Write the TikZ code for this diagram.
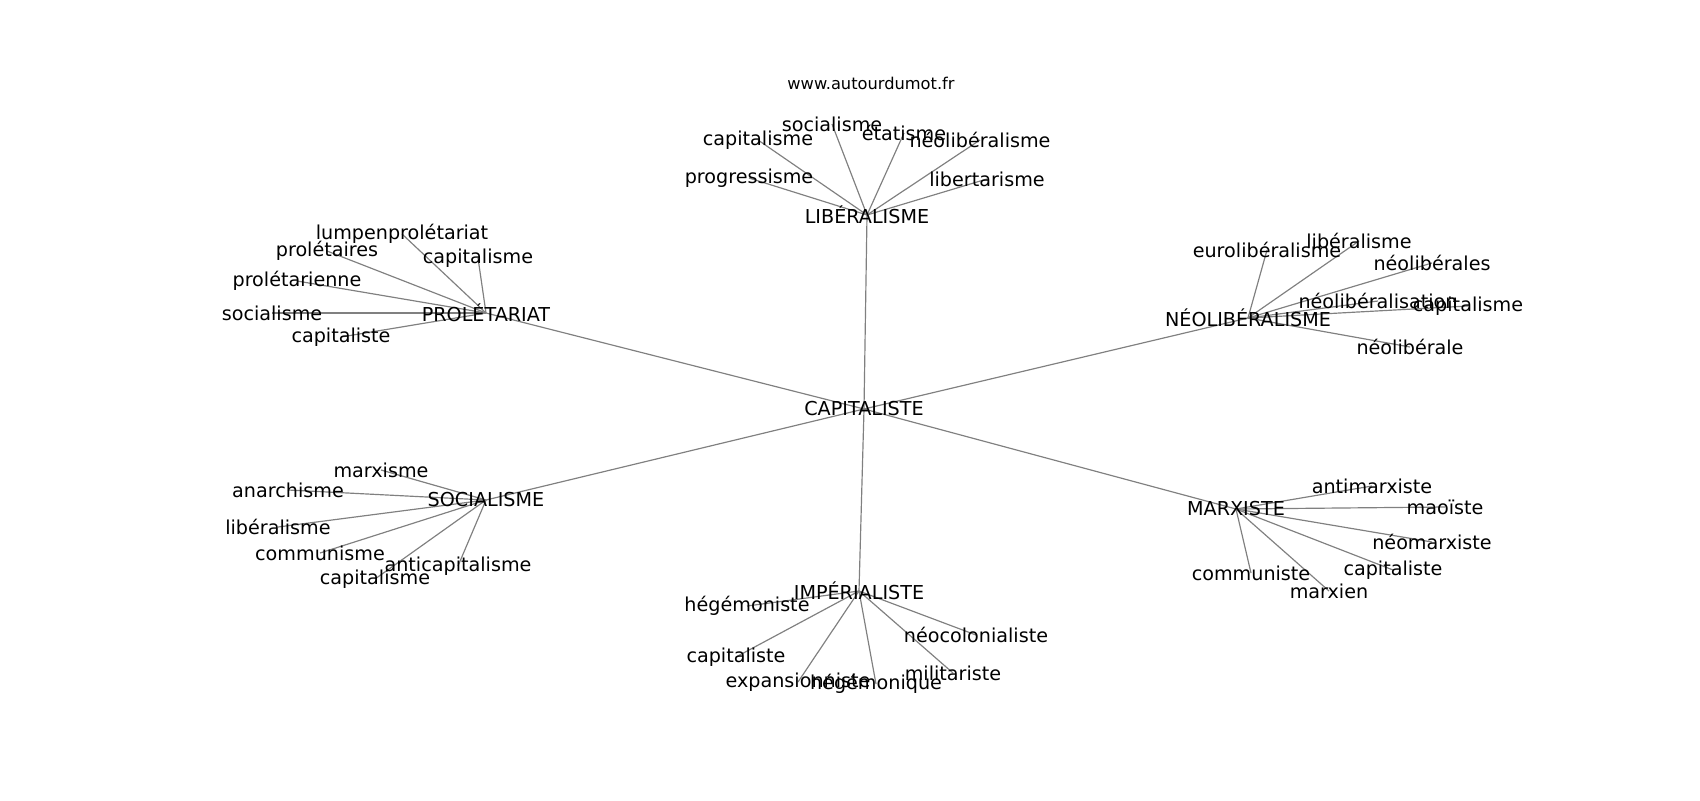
\documentclass[tikz,border=0pt]{standalone}
\usepackage{fontspec}
\setmainfont{DejaVu Sans}
\usetikzlibrary{backgrounds}

\begin{document}
\begin{tikzpicture}[x=0.72pt,y=-0.72pt]
  \tikzstyle{word}=[font=\fontsize{13.8}{16}\selectfont,inner sep=0pt,text=black]
  \tikzstyle{link}=[draw=black!50,line width=0.85pt]

  \useasboundingbox (0,0) rectangle (1700,800);

  \node[font=\fontsize{11.7}{14}\selectfont,inner sep=0pt] (Site) at (871,83) {www.autourdumot.fr};

  \node[word] (Capitaliste)   at (864,409)  {CAPITALISTE};
  \node[word] (Liberalisme)   at (867,215)  {LIBÉRALISME};
  \node[word] (Proletariat)   at (486,313)  {PROLÉTARIAT};
  \node[word] (Neoliberalisme) at (1248,318) {NÉOLIBÉRALISME};
  \node[word] (Socialisme)    at (486,500)  {SOCIALISME};
  \node[word] (Marxiste)      at (1236,509) {MARXISTE};
  \node[word] (Imperialiste)  at (859,591)  {IMPÉRIALISTE};

  % libéralisme
  \node[word] (LibSocialisme)      at (832,124) {socialisme};
  \node[word] (LibCapitalisme)     at (758,140) {capitalisme};
  \node[word] (LibEtatisme)        at (904,133) {étatisme};
  \node[word] (LibNeoliberalisme)  at (980,140) {néolibéralisme};
  \node[word] (LibProgressisme)    at (749,178) {progressisme};
  \node[word] (LibLibertarisme)    at (987,179) {libertarisme};

  % prolétariat
  \node[word] (ProlLumpen)         at (402,234) {lumpenprolétariat};
  \node[word] (ProlProletaires)    at (327,251) {prolétaires};
  \node[word] (ProlCapitalisme)    at (478,258) {capitalisme};
  \node[word] (ProlProletarienne)  at (297,281) {prolétarienne};
  \node[word] (ProlSocialisme)     at (272,313) {socialisme};
  \node[word] (ProlCapitaliste)    at (341,337) {capitaliste};

  % néolibéralisme
  \node[word] (NeoEuroliberalisme)   at (1267,250) {eurolibéralisme};
  \node[word] (NeoLiberalisme)       at (1359,241) {libéralisme};
  \node[word] (NeoNeoliberales)      at (1432,263) {néolibérales};
  \node[word] (NeoNeoliberalisation) at (1378,301) {néolibéralisation};
  \node[word] (NeoCapitalisme)       at (1468,306) {capitalisme};
  \node[word] (NeoNeoliberale)       at (1410,347) {néolibérale};

  % socialisme
  \node[word] (SocMarxisme)        at (381,470) {marxisme};
  \node[word] (SocAnarchisme)      at (288,490) {anarchisme};
  \node[word] (SocLiberalisme)     at (278,527) {libéralisme};
  \node[word] (SocCommunisme)      at (320,553) {communisme};
  \node[word] (SocCapitalisme)     at (375,579) {capitalisme};
  \node[word] (SocAnticapitalisme) at (458,566) {anticapitalisme};

  % marxiste
  \node[word] (MarxAntimarxiste)   at (1372,486) {antimarxiste};
  \node[word] (MarxMaoiste)        at (1445,507) {maoïste};
  \node[word] (MarxNeomarxiste)    at (1432,542) {néomarxiste};
  \node[word] (MarxCapitaliste)    at (1393,570) {capitaliste};
  \node[word] (MarxCommuniste)     at (1251,573) {communiste};
  \node[word] (MarxMarxien)        at (1329,591) {marxien};

  % impérialiste
  \node[word] (ImpHegemoniste)     at (747,606) {hégémoniste};
  \node[word] (ImpNeocolonialiste) at (976,635) {néocolonialiste};
  \node[word] (ImpCapitaliste)     at (736,657) {capitaliste};
  \node[word] (ImpExpansionniste)  at (798,682) {expansionniste};
  \node[word] (ImpHegemonique)     at (876,684) {hégémonique};
  \node[word] (ImpMilitariste)     at (953,673) {militariste};

  \begin{scope}[on background layer]
  \path[link] (Capitaliste.center) edge (Liberalisme.center)
              (Capitaliste.center) edge (Proletariat.center)
              (Capitaliste.center) edge (Neoliberalisme.center)
              (Capitaliste.center) edge (Socialisme.center)
              (Capitaliste.center) edge (Marxiste.center)
              (Capitaliste.center) edge (Imperialiste.center);
  \foreach \leaf in {LibSocialisme,LibCapitalisme,LibEtatisme,LibNeoliberalisme,LibProgressisme,LibLibertarisme}
    \path[link] (Liberalisme.center) edge (\leaf.center);
  \foreach \leaf in {ProlLumpen,ProlProletaires,ProlCapitalisme,ProlProletarienne,ProlSocialisme,ProlCapitaliste}
    \path[link] (Proletariat.center) edge (\leaf.center);
  \foreach \leaf in {NeoEuroliberalisme,NeoLiberalisme,NeoNeoliberales,NeoNeoliberalisation,NeoCapitalisme,NeoNeoliberale}
    \path[link] (Neoliberalisme.center) edge (\leaf.center);
  \foreach \leaf in {SocMarxisme,SocAnarchisme,SocLiberalisme,SocCommunisme,SocCapitalisme,SocAnticapitalisme}
    \path[link] (Socialisme.center) edge (\leaf.center);
  \foreach \leaf in {MarxAntimarxiste,MarxMaoiste,MarxNeomarxiste,MarxCapitaliste,MarxCommuniste,MarxMarxien}
    \path[link] (Marxiste.center) edge (\leaf.center);
  \foreach \leaf in {ImpHegemoniste,ImpNeocolonialiste,ImpCapitaliste,ImpExpansionniste,ImpHegemonique,ImpMilitariste}
    \path[link] (Imperialiste.center) edge (\leaf.center);
  \end{scope}
\end{tikzpicture}
\end{document}
